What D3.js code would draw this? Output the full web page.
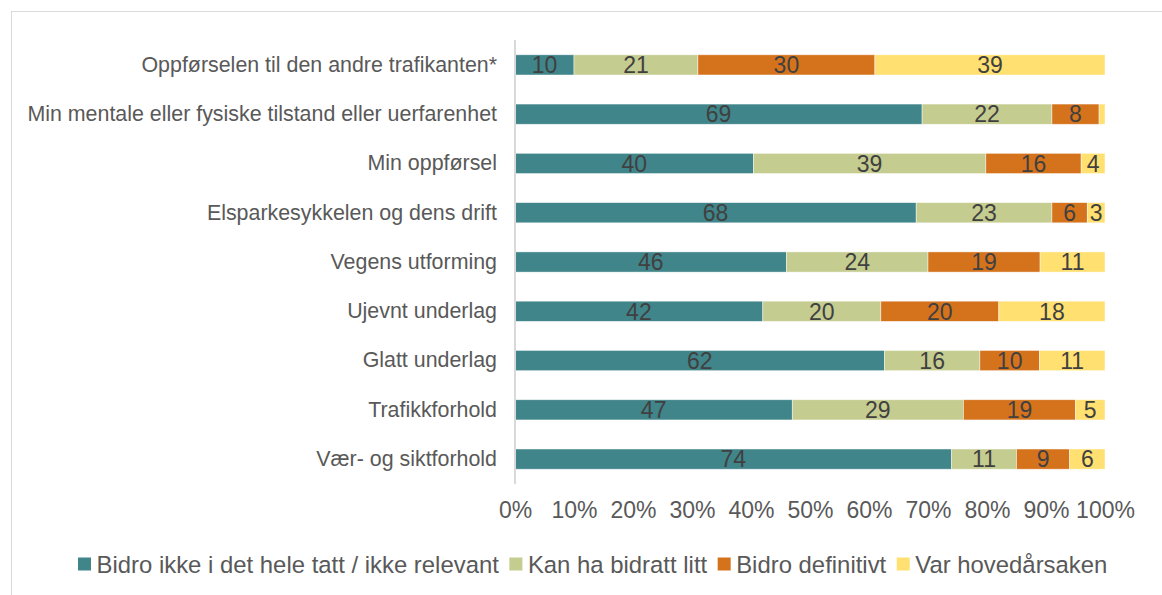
<!DOCTYPE html>
<html>
<head>
<meta charset="utf-8">
<script src="https://cdn.jsdelivr.net/npm/d3@7"></script>
<style>
  body { margin: 0; background: #fff; }
  text { font-family: "Liberation Sans", Arial, sans-serif; }
</style>
</head>
<body>
<script>
var kategorier = [
  "Oppførselen til den andre trafikanten*",
  "Min mentale eller fysiske tilstand eller uerfarenhet",
  "Min oppførsel",
  "Elsparkesykkelen og dens drift",
  "Vegens utforming",
  "Ujevnt underlag",
  "Glatt underlag",
  "Trafikkforhold",
  "Vær- og siktforhold"
];
var serier = ["Bidro ikke i det hele tatt / ikke relevant", "Kan ha bidratt litt", "Bidro definitivt", "Var hovedårsaken"];
var bidroIkke    = [10, 69, 40, 68, 46, 42, 62, 47, 74];
var kanHaBidratt = [21, 22, 39, 23, 24, 20, 16, 29, 11];
var bidroDef     = [30,  8, 16,  6, 19, 20, 10, 19,  9];
var hovedarsak   = [39,  1,  4,  3, 11, 18, 11,  5,  6];
var tickVerdier = [0, 0.1, 0.2, 0.3, 0.4, 0.5, 0.6, 0.7, 0.8, 0.9, 1];

var farger = ["#40858a", "#c5cc8f", "#d5731d", "#ffe070"];

var bredde = 1162, hoyde = 595;
var svg = d3.select("body").append("svg")
            .attr("width", bredde)
            .attr("height", hoyde);

// rammen rundt diagrammet
svg.append("rect")
   .attr("x", 11.5).attr("y", 11.5)
   .attr("width", bredde + 20).attr("height", hoyde + 20)
   .attr("fill", "none")
   .attr("stroke", "#d9d9d9");

var rader = kategorier.map(function(k, i) {
  var verdier = [bidroIkke[i], kanHaBidratt[i], bidroDef[i], hovedarsak[i]];
  var sum = d3.sum(verdier);
  var start = 0;
  return verdier.map(function(v, j) {
    var d = { kat: k, serie: j, verdi: v, x0: start / sum, x1: (start + v) / sum };
    start += v;
    return d;
  });
});

var x = d3.scaleLinear().domain([0, 1]).range([515, 1105]);
var y = d3.scaleBand().domain(kategorier).range([40, 484]).paddingInner(0.59).paddingOuter(0.3);

var g = svg.append("g");

g.selectAll("g.rad")
 .data(rader)
 .enter()
 .append("g")
 .attr("class", "rad")
 .selectAll("rect")
 .data(function(d) { return d; })
 .enter()
 .append("rect")
 .attr("x", function(d) { return x(d.x0); })
 .attr("y", function(d) { return y(d.kat); })
 .attr("width", function(d) { return x(d.x1) - x(d.x0); })
 .attr("height", y.bandwidth())
 .attr("fill", function(d) { return farger[d.serie]; })
 .attr("stroke", "#fff")
 .attr("stroke-opacity", 0.6)
 .attr("stroke-width", 0.75);

// verdier i stolpene
var alle = d3.merge(rader).filter(function(d) { return d.verdi >= 2; });
g.selectAll("text.verdi")
 .data(alle)
 .enter()
 .append("text")
 .attr("class", "verdi")
 .attr("x", function(d) { return (x(d.x0) + x(d.x1)) / 2; })
 .attr("y", function(d) { return y(d.kat) + y.bandwidth() / 2; })
 .attr("dy", "0.36em")
 .attr("text-anchor", "middle")
 .attr("font-size", 23)
 .attr("fill", "#404040")
 .text(function(d) { return d.verdi; });

// kategoriakse
var yAkse = svg.append("g")
               .attr("transform", "translate(515,0)")
               .call(d3.axisLeft(y).tickSize(0).tickPadding(18));
yAkse.select(".domain").attr("stroke", "#d9d9d9").attr("stroke-width", 2)
     .attr("d", "M0,40V484");
yAkse.selectAll("text")
     .attr("font-size", 21.4)
     .attr("fill", "#595959")
     .attr("font-family", "Liberation Sans, Arial, sans-serif");

// prosentakse
var xAkse = svg.append("g")
               .attr("transform", "translate(0,499)")
               .call(d3.axisBottom(x).tickValues(tickVerdier).tickFormat(d3.format(".0%")).tickSize(0));
xAkse.select(".domain").remove();
xAkse.selectAll("text")
     .attr("font-size", 23)
     .attr("fill", "#595959")
     .attr("font-family", "Liberation Sans, Arial, sans-serif");

// tegnforklaring
var legende = svg.append("g").attr("transform", "translate(78,564)");
var lx = 0;
serier.forEach(function(s, i) {
  var lg = legende.append("g").attr("transform", "translate(" + lx + ",0)");
  lg.append("rect")
    .attr("x", 0).attr("y", -6.5)
    .attr("width", 13).attr("height", 13)
    .attr("fill", farger[i]);
  var t = lg.append("text")
    .attr("x", 18.5).attr("dy", "0.36em")
    .attr("font-size", 23.9)
    .attr("fill", "#595959")
    .text(s);
  lx += 18.5 + t.node().getComputedTextLength() + 10.5;
});
</script>
</body>
</html>
